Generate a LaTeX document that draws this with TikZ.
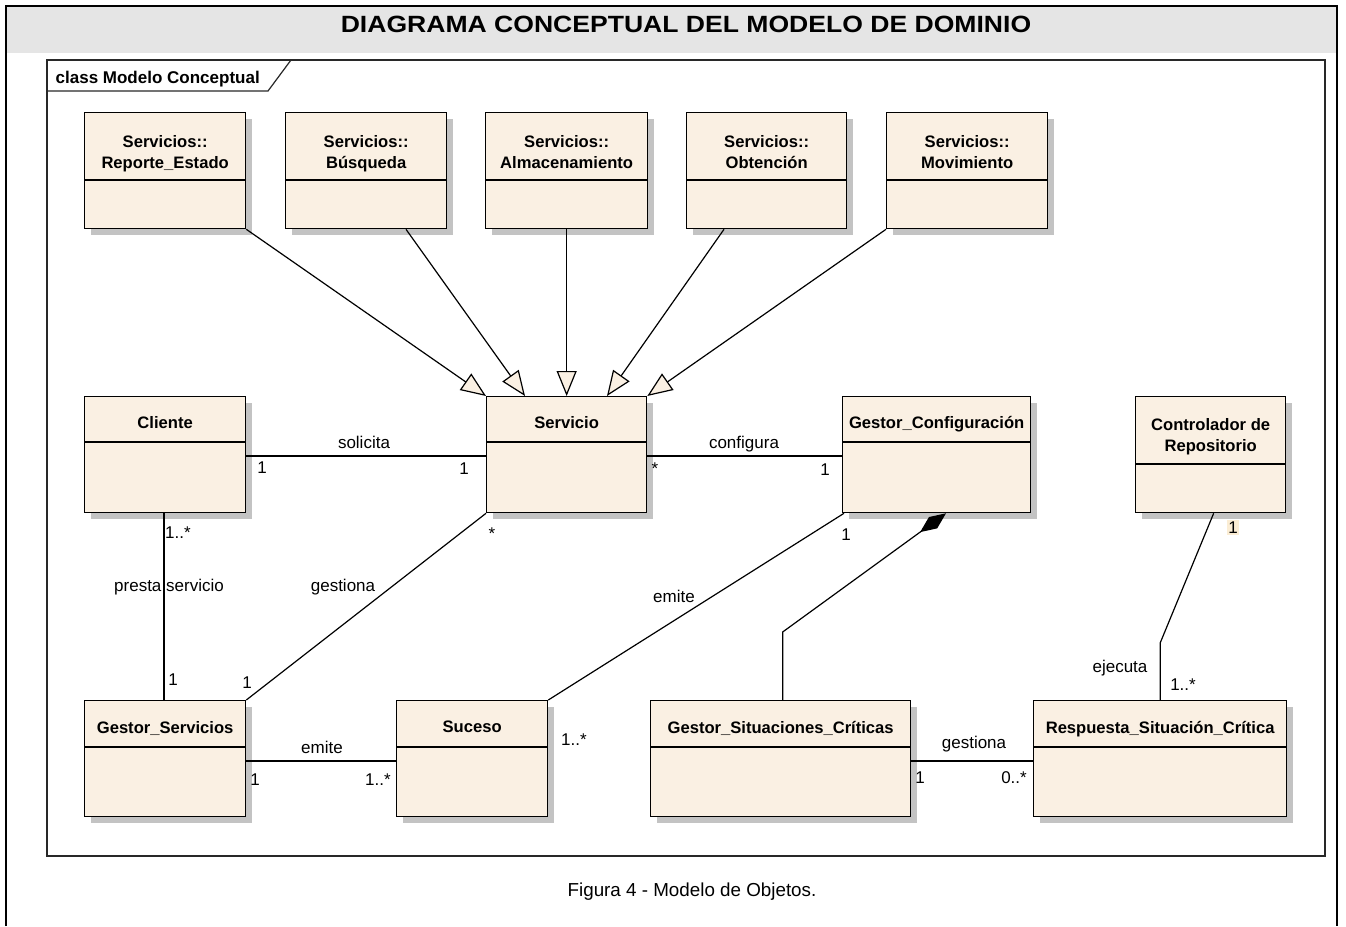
\documentclass[tikz,border=0pt]{standalone}
\usepackage{fontspec}
\setmainfont{Liberation Sans}
\usetikzlibrary{arrows.meta,calc,shadows}

\definecolor{classfill}{RGB}{250,240,227}
\definecolor{shadowgray}{RGB}{195,195,195}
\definecolor{bandgray}{RGB}{229,229,229}
\definecolor{framegray}{RGB}{40,40,40}
\definecolor{notefill}{RGB}{251,237,212}

\tikzset{
  classbox/.style={draw=black, line width=1.3pt, fill=classfill, inner sep=0pt,
    anchor=north west,
    drop shadow={shadow xshift=6pt, shadow yshift=-6pt, fill=shadowgray, opacity=1}},
  classname/.style={font=\bfseries\fontsize{16.6}{21}\selectfont, align=center,
    anchor=north, inner sep=0pt},
  assoc/.style={draw=black, line width=1.2pt},
  gen/.style={assoc, -{Triangle[length=25pt, width=20pt, fill=classfill, line width=1.2pt]}},
  comp/.style={assoc, {Diamond[length=32pt, width=14pt, fill=black]}-},
  lbl/.style={font=\fontsize{17}{20}\selectfont, anchor=base, inner sep=0pt},
}

% \umlclass{name}{left}{top}{width}{divider offset}{text offset}{text}
\newcommand{\umlclass}[7]{%
  \node[classbox, minimum width=#4pt, minimum height=116pt] (#1) at (#2,#3) {};
  \draw[line width=1.3pt] ($(#1.north west)+(0,#5)$) -- ($(#1.north east)+(0,#5)$);
  \node[classname] (#1-name) at ($(#1.north)+(0,#6)$) {#7};
}

\begin{document}
\begin{tikzpicture}[x=1pt, y=-1pt]
\useasboundingbox (0,0) rectangle (1346,926);
\fill[white] (0,0) rectangle (1346,926);

% page frame and title band
\fill[bandgray] (6,6) rectangle (1337,53);
\draw[line width=2pt] (6,926) -- (6,6) -- (1337,6) -- (1337,926);
\node[font=\bfseries\fontsize{23.5}{26}\selectfont, anchor=base, inner sep=0pt] (title) at (686,32)
  {\scalebox{1.13}[1]{DIAGRAMA CONCEPTUAL DEL MODELO DE DOMINIO}};

% diagram frame with its name tab
\draw[framegray, line width=1.5pt] (47,60) rectangle (1325,856);
\draw[framegray, line width=1.2pt] (47,91) -- (268,91) -- (291,60);
\node[font=\bfseries\fontsize{17}{20}\selectfont, anchor=base west, inner sep=0pt] (frametag)
  at (55.5,83.3) {class Modelo Conceptual};

% classes
\umlclass{rep}{84}{112}{161}{68}{23}{Servicios::\\Reporte\_Estado}
\umlclass{bus}{285}{112}{161}{68}{23}{Servicios::\\Búsqueda}
\umlclass{alm}{485}{112}{162}{68}{23}{Servicios::\\Almacenamiento}
\umlclass{obt}{686}{112}{160}{68}{23}{Servicios::\\Obtención}
\umlclass{mov}{886}{112}{161}{68}{23}{Servicios::\\Movimiento}
\umlclass{cli}{84}{396}{161}{46}{20.5}{Cliente}
\umlclass{serv}{486}{396}{160}{46}{20.5}{Servicio}
\umlclass{gcf}{842}{396}{188}{46}{20.5}{Gestor\_Configuración}
\umlclass{ctl}{1135}{396}{150}{68}{22}{Controlador de\\Repositorio}
\umlclass{gs}{84}{700}{161}{47}{21}{Gestor\_Servicios}
\umlclass{suc}{396}{700}{151}{47}{21}{Suceso}
\umlclass{gsc}{650}{700}{260}{47}{21}{Gestor\_Situaciones\_Críticas}
\umlclass{rsc}{1033}{700}{253}{47}{21}{Respuesta\_Situación\_Crítica}

% generalizations
\draw[gen] (rep.south east) -- (serv.north west);
\draw[gen] ($(bus.south west)+(121,0)$) -- ($(serv.north west)+(39,0)$);
\draw[gen] (alm.south) -- (alm.south |- serv.north);
\draw[gen] ($(obt.south west)+(38,0)$) -- ($(serv.north west)+(121,0)$);
\draw[gen] (mov.south west) -- (serv.north east);

% associations
\draw[assoc] ($(cli.north east)+(0,60)$) -- ($(serv.north west)+(0,60)$);
\draw[assoc] ($(serv.north east)+(0,60)$) -- ($(gcf.north west)+(0,60)$);
\draw[assoc] ($(cli.south west)+(80,0)$) -- ($(gs.north west)+(80,0)$);
\draw[assoc] (serv.south west) -- (gs.north east);
\draw[assoc] ($(gcf.south west)+(2,0)$) -- (suc.north east);
\draw[assoc] ($(gs.north east)+(0,61)$) -- ($(suc.north west)+(0,61)$);
\draw[assoc] ($(gsc.north east)+(0,61)$) -- ($(rsc.north west)+(0,61)$);
\draw[assoc] ($(ctl.south)+(3,0)$) -- ($(rsc.north)+(0,-57)$) -- (rsc.north);

% composition
\draw[comp] ($(gcf.south west)+(104,0)$) -- ($(gsc.north)+(2,-68)$) -- ($(gsc.north)+(2,0)$);

% association names and multiplicities
\node[lbl] (l-sol) at (364,448) {solicita};
\node[lbl] (m-cs1) at (262,473) {1};
\node[lbl] (m-cs2) at (464,474) {1};
\node[lbl] (l-conf) at (744,448) {configura};
\node[lbl] (m-sg1) at (655,474) {*};
\node[lbl] (m-sg2) at (825,475) {1};
\node[lbl] (m-cg1) at (178,538) {1..*};
\node[lbl] (l-presta) at (169,591) {presta servicio};
\node[lbl] (m-cg2) at (173,685) {1};
\node[lbl] (l-gest1) at (343,591) {gestiona};
\node[lbl] (m-sgs1) at (492,539) {*};
\node[lbl] (m-sgs2) at (247,688) {1};
\node[lbl] (l-emite1) at (674,602) {emite};
\node[lbl] (m-ge1) at (846,540) {1};
\node[lbl] (m-ge2) at (574,745) {1..*};
\node[lbl] (l-emite2) at (322,753) {emite};
\node[lbl] (m-gse1) at (255,785) {1};
\node[lbl] (m-gse2) at (378,785) {1..*};
\node[lbl] (l-ejec) at (1120,672) {ejecuta};
\node[lbl] (m-cr1) at (1183,690) {1..*};
\node[lbl, fill=notefill, inner sep=1.5pt] (m-cr2) at (1233,533) {1};
\node[lbl] (l-gest2) at (974,748) {gestiona};
\node[lbl] (m-gr1) at (920,783) {1};
\node[lbl] (m-gr2) at (1014,783) {0..*};

% caption
\node[font=\fontsize{18.8}{22}\selectfont, anchor=base, inner sep=0pt] (caption) at (692,896)
  {Figura 4 - Modelo de Objetos.};
\end{tikzpicture}
\end{document}
